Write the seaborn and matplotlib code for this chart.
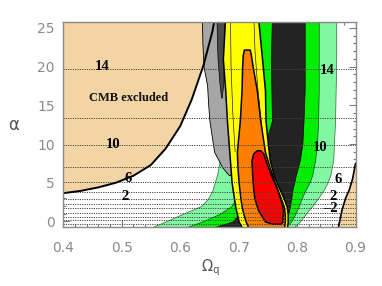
import matplotlib
matplotlib.use('Agg')
import matplotlib.pyplot as plt
from matplotlib.ticker import MultipleLocator
import numpy as np
import seaborn as sns

# --- values ------------------------------------------------------------
# CMB excluded boundary, upper left
cmb_x = [0.4, 0.43, 0.46, 0.49, 0.52, 0.55, 0.575, 0.6, 0.62, 0.64, 0.655, 0.66]
cmb_y = [3.65, 3.95, 4.4, 5.0, 5.9, 7.3, 9.4, 12.3, 15.8, 20.2, 24.5, 26.5]
# CMB excluded boundary, lower right
cmb2_x = [0.9, 0.895, 0.889, 0.883, 0.877, 0.87]
cmb2_y = [7.5, 5.5, 4.0, 3.0, 1.5, -1.0]

# green / dark confidence bands (shared alpha grid)
band_y = [-1.5, -0.7, 0, 1, 2, 3, 4, 5, 6, 8, 10, 13, 17, 21, 26.5]
lgreen_left = [0.53, 0.553, 0.575, 0.605, 0.636, 0.648, 0.655, 0.659, 0.663, 0.668, 0.672, 0.675, 0.68, 0.69, 0.70]
lgreen_right = [0.785, 0.795, 0.805, 0.815, 0.826, 0.836, 0.845, 0.852, 0.857, 0.862, 0.863, 0.865, 0.866, 0.867, 0.867]
green_left = [0.59, 0.612, 0.638, 0.668, 0.688, 0.695, 0.698, 0.70, 0.703, 0.71, 0.72, 0.735, 0.738, 0.73, 0.725]
green_right = [0.772, 0.78, 0.79, 0.797, 0.803, 0.808, 0.814, 0.821, 0.826, 0.831, 0.834, 0.836, 0.837, 0.837, 0.837]
dark_left = [0.64, 0.66, 0.69, 0.70, 0.705, 0.71, 0.715, 0.72, 0.725, 0.735, 0.745, 0.757, 0.756, 0.755, 0.757]
dark_right = [0.76, 0.768, 0.778, 0.785, 0.788, 0.79, 0.792, 0.795, 0.798, 0.805, 0.809, 0.811, 0.813, 0.813, 0.813]

# yellow band
yellow_left = [0.71, 0.705, 0.70, 0.697, 0.694, 0.692, 0.69, 0.688, 0.687, 0.685, 0.683, 0.68, 0.677, 0.673, 0.677]
yellow_right = [0.783, 0.783, 0.784, 0.784, 0.782, 0.777, 0.771, 0.765, 0.76, 0.753, 0.75, 0.746, 0.745, 0.74, 0.733]
# overlapping contour outlines seen inside the yellow band
inner1_x = [0.686, 0.687, 0.690, 0.694]
inner1_y = [26.5, 20, 14, 9]
inner2_x = [0.726, 0.728, 0.733, 0.740]
inner2_y = [26.5, 22, 17, 12]

# gray bands
gray_y = [6.0, 7, 8, 9, 11, 13, 15, 17.6, 20, 23, 26.5]
gray_left = [0.683, 0.672, 0.665, 0.658, 0.654, 0.65, 0.648, 0.646, 0.64, 0.638, 0.637]
gray_right = [0.686, 0.688, 0.689, 0.688, 0.686, 0.685, 0.683, 0.682, 0.68, 0.68, 0.682]
dgray_y = [16, 18, 21, 23, 26.5]
dgray_left = [0.670, 0.667, 0.664, 0.663, 0.662]
dgray_right = [0.671, 0.674, 0.675, 0.676, 0.676]

# orange and red
orange_y = [-1.5, -0.7, 0, 1, 2, 3, 5, 7, 9, 13, 17, 20, 21.5, 22.2]
orange_left = [0.722, 0.716, 0.712, 0.708, 0.705, 0.703, 0.700, 0.698, 0.697, 0.702, 0.705, 0.706, 0.707, 0.709]
orange_right = [0.775, 0.778, 0.779, 0.779, 0.777, 0.772, 0.762, 0.753, 0.745, 0.737, 0.731, 0.724, 0.721, 0.719]
red_y = [-0.3, 0, 1.5, 3, 4.1, 6.2, 7.9, 8.8, 9.2]
red_left = [0.758, 0.745, 0.733, 0.727, 0.725, 0.723, 0.722, 0.725, 0.731]
red_right = [0.772, 0.775, 0.776, 0.771, 0.766, 0.754, 0.746, 0.742, 0.737]

# dotted contour lines and their labels
level_y = [19.75, 13.3, 9.86, 7.07, 5.14, 3.77, 2.9, 2.27, 1.67, 1.08, 0.57, 0.13, -0.3]
label_text = ['14', '10', '6', '2', '14', '10', '6', '2', '\u20132']
label_x = [0.466, 0.486, 0.511, 0.506, 0.851, 0.840, 0.871, 0.862, 0.857]
label_y = [20.0, 9.9, 5.6, 3.2, 19.5, 9.6, 5.4, 3.2, 1.7]

sns.set_theme(style='ticks')
plt.rcParams['font.family'] = ['DejaVu Sans']

fig = plt.figure(figsize=(3.82, 2.86), dpi=100)
ax = fig.add_axes([0.1657, 0.2063, 0.765, 0.7178])


def band(y, left, right, color, z, lw=0.9, ec='black'):
    ax.fill_betweenx(y, left, right, facecolor=color, edgecolor=ec,
                     linewidth=lw, zorder=z)


# CMB excluded regions
ax.fill_betweenx(cmb_y, 0.3, cmb_x, facecolor='#f3d4a4', edgecolor='none', zorder=1)
ax.fill_betweenx(cmb2_y, cmb2_x, 1.0, facecolor='#f3d4a4', edgecolor='none', zorder=1)

band(band_y, lgreen_left, lgreen_right, '#80f7a0', 2, lw=0.5, ec='#336633')
band(band_y, green_left, green_right, '#00ee00', 3, lw=0.5, ec='#224422')
band(band_y, dark_left, dark_right, '#232323', 4, lw=0.5)
band(gray_y, gray_left, gray_right, '#a6a6a6', 5, lw=0.6)
band(dgray_y, dgray_left, dgray_right, '#4a4a4a', 6, lw=0.5)
band(band_y, yellow_left, yellow_right, '#ffff00', 7, lw=1.1)
sns.lineplot(x=inner1_x, y=inner1_y, sort=False, estimator=None, color='#222222',
             lw=0.5, ax=ax, zorder=7.5)
sns.lineplot(x=inner2_x, y=inner2_y, sort=False, estimator=None, color='#222222',
             lw=0.5, ax=ax, zorder=7.5)
band(orange_y, orange_left, orange_right, '#ff8000', 8, lw=1.1)
band(red_y, red_left, red_right, '#ff0000', 9, lw=1.1)

for yv in level_y:
    ax.axhline(yv, color='#444444', lw=0.7, ls=(0, (1.2, 1.2)), zorder=10)

sns.lineplot(x=cmb_x, y=cmb_y, sort=False, estimator=None, color='black',
             lw=1.4, ax=ax, zorder=11)
sns.lineplot(x=cmb2_x, y=cmb2_y, sort=False, estimator=None, color='black',
             lw=1.2, ax=ax, zorder=11)

for t, x, y in zip(label_text, label_x, label_y):
    ax.text(x, y, t, ha='center', va='center', fontsize=10.5, fontweight='bold',
            family='Liberation Serif', color='black', zorder=12)
ax.text(0.511, 16.0, 'CMB excluded', ha='center', va='center', fontsize=9,
        fontweight='bold', family='Liberation Serif', color='#111111', zorder=12)

ax.set_xlim(0.4, 0.9)
ax.set_ylim(-0.72, 25.8)
ax.xaxis.set_major_locator(MultipleLocator(0.1))
ax.xaxis.set_minor_locator(MultipleLocator(0.02))
ax.yaxis.set_major_locator(MultipleLocator(5))
ax.yaxis.set_minor_locator(MultipleLocator(1))
ax.tick_params(which='both', direction='in', top=True, right=True,
               color='#7a7a7a', width=0.8)
ax.tick_params(which='major', length=5)
ax.tick_params(which='minor', length=2.5)
ax.tick_params(axis='x', which='major', pad=10, labelsize=10, labelcolor='#8a8a8a')
ax.tick_params(axis='y', which='major', pad=6, labelsize=10, labelcolor='#8a8a8a')
for s in ax.spines.values():
    s.set_color('#8a8a8a')
    s.set_linewidth(1.0)
    s.set_zorder(13)

ax.set_xlabel(r'$\Omega_{\rm q}$', fontsize=10.5, color='#555555')
ax.set_ylabel('\u03b1', fontsize=12, color='#555555', rotation=0)
ax.xaxis.label.set_va('center')
ax.yaxis.label.set_va('center')
ax.xaxis.set_label_coords(0.502, -0.198)
ax.yaxis.set_label_coords(-0.169, 0.497)

fig.savefig('out.png', dpi=100)
